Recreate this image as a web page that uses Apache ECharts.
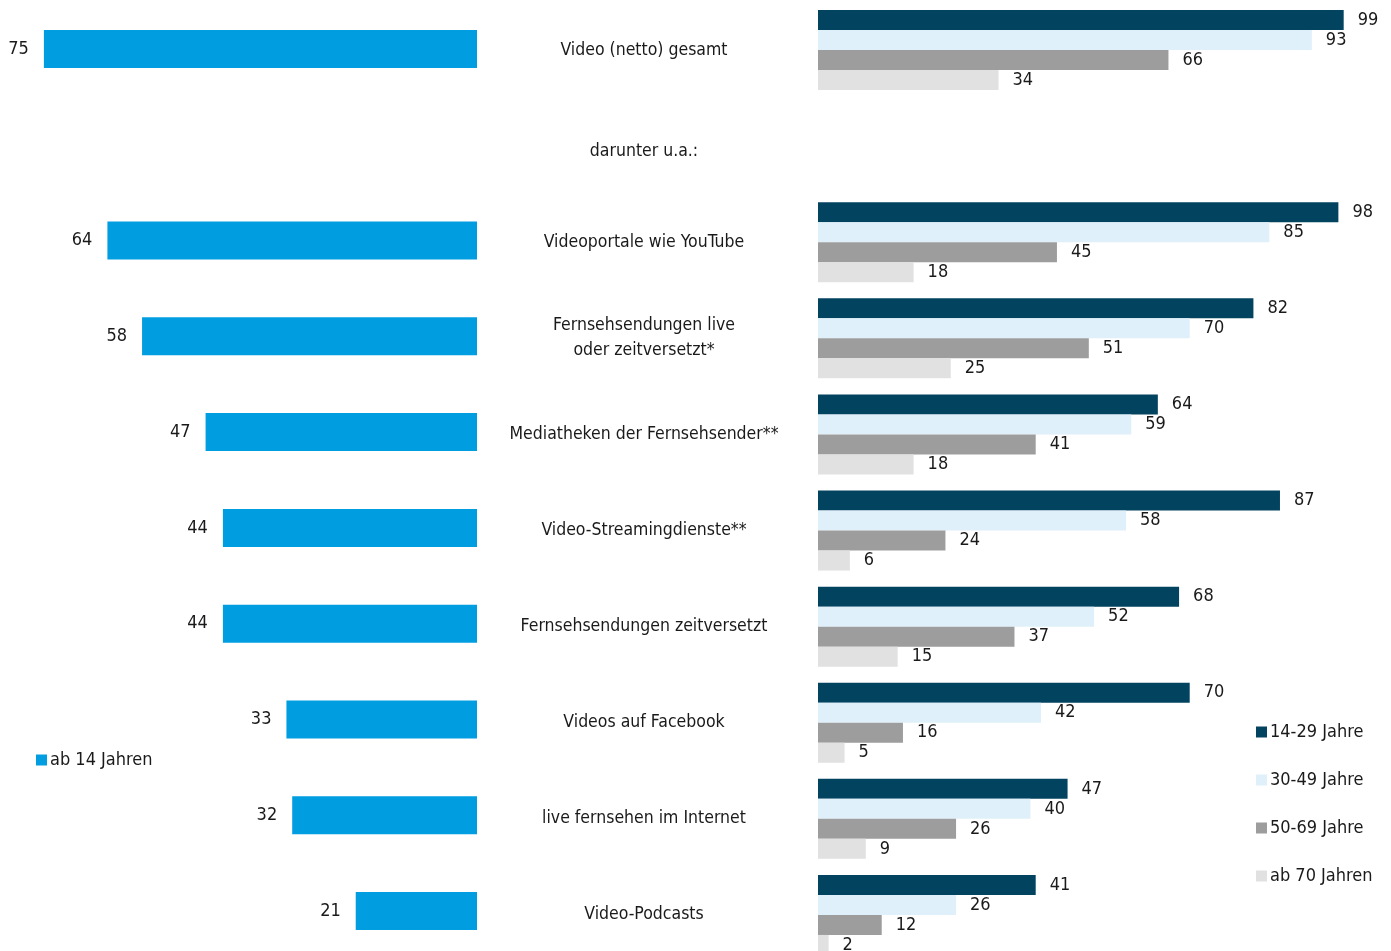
<!DOCTYPE html>
<html>
<head>
<meta charset="utf-8">
<script src="https://cdn.jsdelivr.net/npm/echarts@6/dist/echarts.min.js"></script>
<style>html,body{margin:0;padding:0;background:#fff}#c{width:1391px;height:951px}</style>
</head>
<body>
<div id="c"></div>
<script>
const categories = ['Video (netto) gesamt','darunter u.a.:','Videoportale wie YouTube','Fernsehsendungen live\noder zeitversetzt*','Mediatheken der Fernsehsender**','Video-Streamingdienste**','Fernsehsendungen zeitversetzt','Videos auf Facebook','live fernsehen im Internet','Video-Podcasts'];
const total = [75, null, 64, 58, 47, 44, 44, 33, 32, 21];
const age14_29 = [99, null, 98, 82, 64, 87, 68, 70, 47, 41];
const age30_49 = [93, null, 85, 70, 59, 58, 52, 42, 40, 26];
const age50_69 = [66, null, 45, 51, 41, 24, 37, 16, 26, 12];
const age70 = [34, null, 18, 25, 18, 6, 15, 5, 9, 2];

const FONT = '"DejaVu Sans Condensed", "DejaVu Sans", sans-serif';
const TXT = '#1a1a1a';
const chart = echarts.init(document.getElementById('c'), null, {renderer: 'canvas'});
const rightLabel = {show: true, position: 'right', distance: 14, color: TXT, fontFamily: FONT, fontSize: 18};
function rs(name, data, color) {
  return {name, type: 'bar', xAxisIndex: 1, yAxisIndex: 1, data, barWidth: 20, barGap: '0%',
    itemStyle: {color}, label: rightLabel, silent: true};
}
chart.setOption({
  animation: false,
  textStyle: {fontFamily: FONT},
  grid: [
    {left: 0, top: 1, width: 477, height: 958, outerBoundsMode: 'none', containLabel: false},
    {left: 818, top: 2, width: 531, height: 961, outerBoundsMode: 'none', containLabel: false}
  ],
  xAxis: [
    {gridIndex: 0, type: 'value', min: 0, max: 82.6, inverse: true, show: false},
    {gridIndex: 1, type: 'value', min: 0, max: 100, show: false}
  ],
  yAxis: [
    {gridIndex: 0, type: 'category', data: categories, inverse: true, show: false},
    {gridIndex: 1, type: 'category', data: categories, inverse: true,
      axisLine: {show: false}, axisTick: {show: false},
      axisLabel: {margin: 174, align: 'center', color: TXT, fontFamily: FONT, fontSize: 17.5, lineHeight: 25,
        formatter: v => v === 'darunter u.a.:' ? '{d|' + v + '}' : v,
        rich: {d: {padding: [10, 0, 0, 0], color: TXT, fontFamily: FONT, fontSize: 17.5}}}}
  ],
  legend: [
    {data: ['ab 14 Jahren'], left: 36, top: 751, padding: 0, icon: 'rect', itemWidth: 11, itemHeight: 11, itemGap: 3,
      textStyle: {color: TXT, fontFamily: FONT, fontSize: 18, padding: [0, 0, 0, -2]}},
    {data: ['14-29 Jahre', '30-49 Jahre', '50-69 Jahre', 'ab 70 Jahren'], orient: 'vertical', left: 1256, top: 723, padding: 0,
      icon: 'rect', itemWidth: 11, itemHeight: 11, itemGap: 30,
      textStyle: {color: TXT, fontFamily: FONT, fontSize: 18, padding: [0, 0, 0, -2]}}
  ],
  series: [
    {name: 'ab 14 Jahren', type: 'bar', xAxisIndex: 0, yAxisIndex: 0, data: total, barWidth: 38,
      itemStyle: {color: '#009de0'}, silent: true,
      label: {show: true, position: 'left', distance: 15, color: TXT, fontFamily: FONT, fontSize: 18}},
    rs('14-29 Jahre', age14_29, '#02435f'),
    rs('30-49 Jahre', age30_49, '#dff0fb'),
    rs('50-69 Jahre', age50_69, '#9d9d9d'),
    rs('ab 70 Jahren', age70, '#e1e1e1')
  ]
});
</script>
</body>
</html>
